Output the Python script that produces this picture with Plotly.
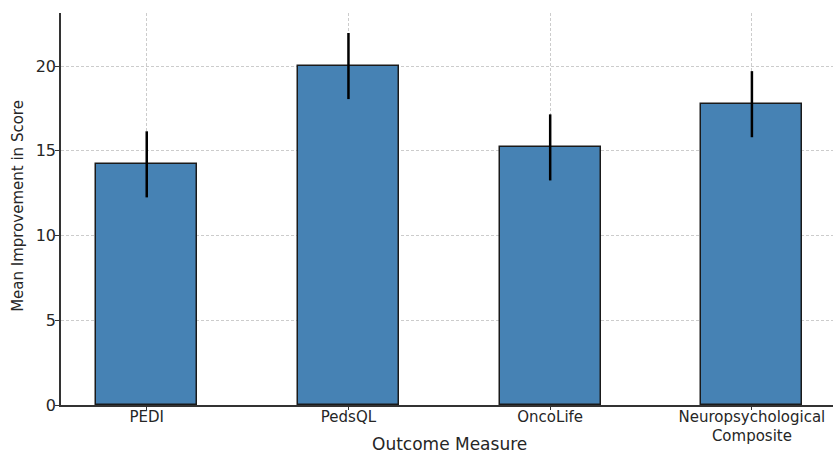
import plotly.graph_objects as go

categories = ["PEDI", "PedsQL", "OncoLife", "Neuropsychological<br>Composite"]
means = [14.2, 20.0, 15.2, 17.75]
errors = [1.95, 1.95, 1.95, 1.95]
y_ticks = [0, 5, 10, 15, 20]

fig = go.Figure()
fig.add_trace(go.Bar(
    x=list(range(len(categories))),
    y=means,
    width=0.5,
    marker=dict(color="#4682b4", line=dict(color="#1a1a1a", width=1.5)),
    error_y=dict(type="data", array=errors, visible=True, color="black", thickness=2.5, width=0),
))

fig.update_layout(
    width=833, height=455,
    margin=dict(l=61, r=0, t=13, b=50),
    plot_bgcolor="white", paper_bgcolor="white",
    font=dict(family="DejaVu Sans", size=13, color="#262626"),
    showlegend=False,
    bargap=0,
    annotations=[
        dict(text="Mean Improvement in Score", textangle=-90, xref="paper", yref="paper",
             x=-0.0557, y=0.508, xanchor="center", yanchor="middle", showarrow=False,
             font=dict(size=15, color="#262626")),
        dict(text="Outcome Measure", xref="paper", yref="paper",
             x=0.5026, y=-0.1, xanchor="center", yanchor="middle", showarrow=False,
             borderpad=0, font=dict(size=17, color="#262626")),
    ],
)
fig.update_xaxes(
    range=[-0.425, 3.402],
    tickmode="array", tickvals=list(range(len(categories))), ticktext=categories,
    showgrid=True, gridcolor="#cccccc", griddash="3px,2px", gridwidth=0.8,
    showline=True, linecolor="#333333", linewidth=1.5,
    ticks="outside", ticklen=3, tickcolor="#333333",
    tickfont=dict(size=15), ticklabelstandoff=-6,
    layer="above traces",
    zeroline=False, automargin=False,
)
fig.update_yaxes(
    range=[0, 23.13],
    tickmode="array", tickvals=y_ticks,
    showgrid=True, gridcolor="#cccccc", griddash="3px,2px", gridwidth=0.8,
    showline=True, linecolor="#333333", linewidth=1.5,
    ticks="outside", ticklen=4, tickcolor="#333333",
    tickfont=dict(size=16), ticklabelstandoff=-4,
    layer="above traces",
    zeroline=False, automargin=False,
)

fig.write_html("out.html", config={"displayModeBar": False},
               post_script="document.body.style.margin='0';document.body.style.overflow='hidden';")
